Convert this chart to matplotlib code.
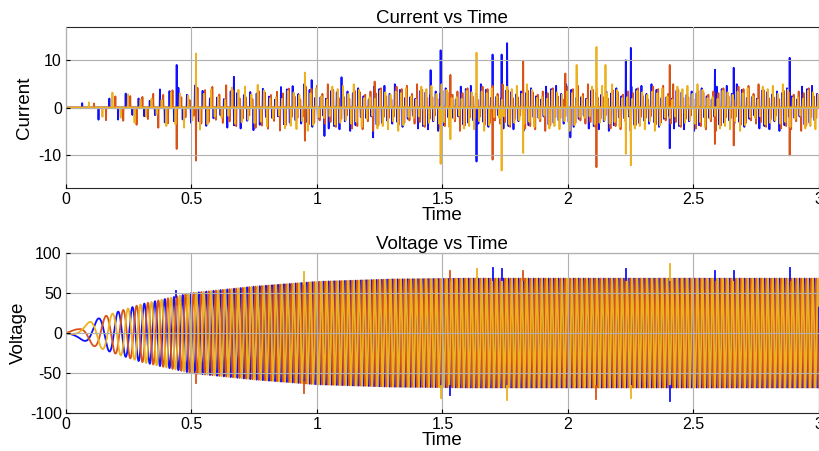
import numpy as np
import matplotlib
matplotlib.use('Agg')
import matplotlib.pyplot as plt

plt.rcParams['font.family'] = ['Liberation Sans', 'DejaVu Sans']
plt.rcParams['axes.unicode_minus'] = False

# colours of the three phases (drawn in this order)
colors = ['#1010ff', '#d95319', '#edb120']

# supply frequency ramp (Hz), read from the spacing of the voltage peaks
f_time = [0, 0.1, 0.3, 0.6, 1.0, 1.5, 3.0]
f_vals = [0, 8, 22, 36, 46, 50, 50]

# voltage envelope read from the peaks
v_time = [0, 0.05, 0.1, 0.2, 0.3, 0.5, 0.75, 1.0, 1.3, 1.6, 3.0]
v_amp = [0, 6, 15, 26, 36, 50, 58, 64, 67, 68, 68]

# typical current spike height
i_time = [0, 0.04, 0.08, 0.15, 0.3, 0.5, 1.0, 3.0]
i_amp = [0, 0.5, 1.2, 2.0, 2.8, 3.2, 3.4, 3.4]
i_factor = [1.0, 0.6, 1.3, 0.8, 1.1, 0.5, 0.95, 1.45, 0.7, 1.05, 0.85, 1.2,
            0.55, 1.35, 0.9, 0.65, 1.15]

# phase offsets (rad): red starts positive, blue and yellow negative
offsets = [np.pi / 2 + 2 * np.pi / 3, np.pi / 2, np.pi / 2 - 2 * np.pi / 3]

# large current spikes (time, value)
big_blue = [(0.441, 9.0), (0.669, 6.5), (0.979, 5.8), (1.03, -6.0), (1.098, 6.4),
            (1.224, -6.3), (1.453, 7.9), (1.493, 12.1), (1.636, -11.4), (1.70, 11.2),
            (1.736, 11.2), (1.758, 13.6), (2.01, -6.3), (2.231, 10.0), (2.251, 12.6),
            (2.406, -8.6), (2.586, 8.0), (2.661, 8.4), (2.884, 10.5)]
big_red = [(0.441, -8.75), (0.518, -11.2), (0.952, -7.0), (1.23, 5.5), (1.532, 6.9),
           (1.70, -11.0), (1.822, 9.8), (1.99, 7.2), (2.114, -12.6), (2.406, 9.0),
           (2.586, -7.7), (2.661, -8.0), (2.884, -10.1)]
big_yellow = [(0.518, 11.4), (0.952, 7.4), (1.493, -11.9), (1.532, -6.7), (1.636, 11.6),
              (1.736, -13.3), (1.822, -9.6), (2.035, 9.0), (2.114, 12.8), (2.15, 9.0),
              (2.231, -9.8), (2.251, -12.2)]
big_current = [big_blue, big_red, big_yellow]

# voltage peak overshoots (time, value)
vs_blue = [(0.44, 53), (1.70, 81), (1.736, 80), (1.532, -77), (2.231, 80),
           (2.406, -85), (2.586, 78), (2.661, 78), (2.884, 81)]
vs_red = [(0.52, -63), (0.95, -75), (1.532, 78), (1.822, 78), (2.114, -82)]
vs_yellow = [(0.95, 76), (1.493, -81), (1.636, 80), (1.758, -84), (2.251, -81), (2.406, 86)]
v_spikes = [vs_blue, vs_red, vs_yellow]

t = np.linspace(0, 3, 30001)
f = np.interp(t, f_time, f_vals)
phase = 2 * np.pi * np.concatenate([[0], np.cumsum((f[1:] + f[:-1]) / 2 * np.diff(t))])
A = np.interp(t, v_time, v_amp)

fig = plt.figure(figsize=(8.2, 4.51), dpi=100)
ax1 = fig.add_axes([0.0805, 0.583, 0.918, 0.357])
ax2 = fig.add_axes([0.0805, 0.084, 0.918, 0.355])

# current
d = 0.0012
for k in range(3):
    # spike at every half cycle of the phase
    n_half = int(phase[-1] / np.pi) + 2
    targets = np.arange(n_half) * np.pi + (np.pi / 2 - offsets[k]) % np.pi
    targets = targets[targets < phase[-1]]
    tk = np.interp(targets, phase, t)
    hk = np.interp(tk, i_time, i_amp)
    hk = hk * np.array([i_factor[(j * 7 + k * 5) % len(i_factor)] for j in range(len(tk))])
    sign = np.array([1 if j % 2 == 0 else -1 for j in range(len(tk))])
    if k == 1:
        sign = -sign
    hk = hk * sign
    times = list(tk) + [p[0] for p in big_current[k]]
    vals = list(hk) + [p[1] for p in big_current[k]]
    order = np.argsort(times)
    xs, ys = [0.0], [0.0]
    for j in order:
        xs += [times[j] - d, times[j], times[j] + d]
        ys += [0, vals[j], 0]
    xs.append(3.0)
    ys.append(0.0)
    ax1.plot(xs, ys, color=colors[k], lw=1.3)
ax1.plot([0, 3], [0, 0], color=colors[2], lw=1.6)

# voltage
for k in range(3):
    v = A * np.cos(phase + offsets[k] - np.pi / 2)
    ax2.plot(t, v, color=colors[k], lw=1.3)
for k in range(3):
    for ts, val in v_spikes[k]:
        base = np.interp(ts, v_time, v_amp) * np.sign(val) * 0.97
        ax2.plot([ts, ts], [base, val], color=colors[k], lw=1.3)

for ax in (ax1, ax2):
    ax.set_xlim(0, 3)
    ax.set_xticks([0, 0.5, 1, 1.5, 2, 2.5, 3])
    ax.set_xticklabels(['0', '0.5', '1', '1.5', '2', '2.5', '3'])
    ax.grid(True, color='#b0b0b0', lw=0.8)
    ax.set_axisbelow(False)
    ax.tick_params(direction='in', labelsize=11.5, length=3, pad=3)
    for s in ax.spines.values():
        s.set_color('#262626')
        s.set_linewidth(0.8)
    ax.set_xlabel('Time', fontsize=13.5, labelpad=0)

ax1.set_ylim(-17, 17)
ax1.set_yticks([-10, 0, 10])
ax1.set_ylabel('Current', fontsize=13.5, labelpad=4)
ax1.set_title('Current vs Time', fontsize=13.5, pad=3)

ax2.set_ylim(-100, 100)
ax2.set_yticks([-100, -50, 0, 50, 100])
ax2.set_ylabel('Voltage', fontsize=13.5, labelpad=2)
ax2.set_title('Voltage vs Time', fontsize=13.5, pad=3)

fig.savefig('out.png', dpi=100)
